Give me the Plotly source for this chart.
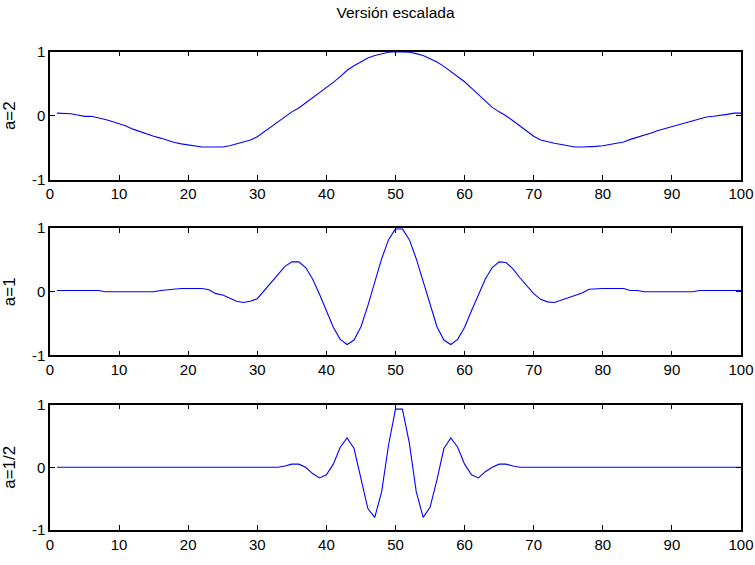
import plotly.graph_objects as go

# Sample index (1..100) shared by the three scaled wavelets
x = list(range(1, 101))

# a = 2 (stretched)
a2 = [0.04, 0.04, 0.03, 0.01, -0.01, -0.01, -0.03, -0.06, -0.09, -0.12,
      -0.16, -0.21, -0.25, -0.29, -0.32, -0.35, -0.39, -0.42, -0.44, -0.46,
      -0.47, -0.49, -0.49, -0.49, -0.49, -0.47, -0.44, -0.42, -0.38, -0.33,
      -0.25, -0.18, -0.10, -0.02, 0.06, 0.12, 0.20, 0.28, 0.36, 0.43,
      0.52, 0.61, 0.71, 0.78, 0.84, 0.90, 0.94, 0.97, 0.99, 1.00,
      1.00, 0.99, 0.97, 0.94, 0.89, 0.84, 0.77, 0.69, 0.61, 0.53,
      0.43, 0.33, 0.22, 0.13, 0.06, 0.00, -0.08, -0.16, -0.25, -0.32,
      -0.38, -0.41, -0.43, -0.45, -0.47, -0.49, -0.49, -0.49, -0.48, -0.47,
      -0.45, -0.43, -0.41, -0.37, -0.34, -0.30, -0.27, -0.23, -0.20, -0.17,
      -0.13, -0.10, -0.07, -0.04, -0.02, -0.01, 0.00, 0.02, 0.04, 0.04]

# a = 1 (mother wavelet)
a1 = [0.02, 0.02, 0.02, 0.02, 0.02, 0.02, 0.02, 0.00, 0.00, 0.00,
      0.00, 0.00, 0.00, 0.00, 0.00, 0.02, 0.03, 0.05, 0.05, 0.05,
      0.05, 0.05, 0.03, -0.03, -0.05, -0.10, -0.15, -0.17, -0.15, -0.11,
      0.02, 0.15, 0.28, 0.40, 0.47, 0.47, 0.38, 0.20, -0.04, -0.30,
      -0.56, -0.75, -0.83, -0.76, -0.55, -0.22, 0.15, 0.52, 0.82, 0.99,
      0.99, 0.82, 0.52, 0.15, -0.22, -0.55, -0.76, -0.83, -0.75, -0.56,
      -0.30, -0.04, 0.20, 0.38, 0.47, 0.46, 0.36, 0.22, 0.10, -0.03,
      -0.12, -0.16, -0.17, -0.13, -0.09, -0.05, -0.02, 0.04, 0.05, 0.05,
      0.05, 0.05, 0.05, 0.02, 0.02, 0.00, 0.00, 0.00, 0.00, 0.00,
      0.00, 0.00, 0.00, 0.02, 0.02, 0.02, 0.02, 0.02, 0.02, 0.02]

# a = 1/2 (compressed)
a_half = [0.0] * 33 + [
      0.02, 0.05, 0.05, 0.00, -0.10, -0.17, -0.12, 0.05, 0.32, 0.47,
      0.30, -0.18, -0.66, -0.80, -0.39, 0.36, 0.93, 0.93, 0.39, -0.39,
      -0.80, -0.64, -0.20, 0.30, 0.47, 0.32, 0.05, -0.12, -0.17, -0.07,
      0.00, 0.05, 0.05, 0.02] + [0.0] * 33

series = [a2, a1, a_half]
ylabels = ["a=2", "a=1", "a=1/2"]
xticks = [0, 10, 20, 30, 40, 50, 60, 70, 80, 90, 100]
yticks = [-1, 0, 1]

W, H = 755, 565
# panel vertical extents in pixels (top, bottom)
panels = [(44, 176), (226, 357), (408, 537)]

tick_font = dict(family="Liberation Sans, Arial", size=15, color="black")

fig = go.Figure()
for i, (ys, lab, (top, bot)) in enumerate(zip(series, ylabels, panels)):
    n = "" if i == 0 else str(i + 1)
    fig.add_trace(go.Scatter(x=x, y=ys, mode="lines",
                             line=dict(color="#0000ff", width=1.1),
                             xaxis="x" + n, yaxis="y" + n, showlegend=False))
    dom = [(H - bot) / H, (H - top) / H]
    fig.layout["xaxis" + n] = dict(
        domain=[0, 1], range=[0, 100], anchor="y" + n,
        tickvals=xticks, ticktext=[str(v) for v in xticks],
        ticks="inside", ticklen=5, tickcolor="black", tickwidth=1,
        showline=True, linecolor="black", linewidth=1.5, mirror="ticks",
        showgrid=False, zeroline=False, tickfont=tick_font)
    fig.layout["yaxis" + n] = dict(
        domain=dom, range=[-1, 1], anchor="x" + n,
        tickvals=yticks, ticktext=[str(v) for v in yticks],
        ticks="inside", ticklen=5, tickcolor="black", tickwidth=1,
        showline=True, linecolor="black", linewidth=1.5, mirror="ticks",
        showgrid=False, zeroline=False, tickfont=tick_font,
        title=dict(text=lab, standoff=12,
                   font=dict(family="Liberation Sans, Arial", size=17, color="black")))

fig.update_layout(
    width=W, height=H,
    margin=dict(l=50, r=14, t=0, b=0),
    paper_bgcolor="white", plot_bgcolor="white",
    title=dict(text="Versión escalada", x=(50 + 741) / 2 / W, xanchor="center",
               y=1 - 13 / H, yanchor="middle",
               font=dict(family="Liberation Sans, Arial", size=15.5, color="black")),
)

fig.write_html("out.html")
